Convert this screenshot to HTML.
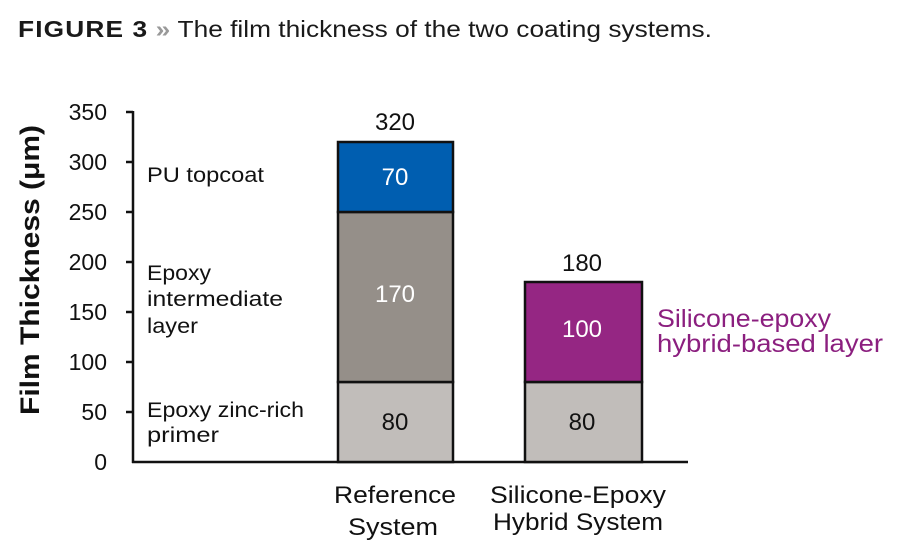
<!DOCTYPE html>
<html><head><meta charset="utf-8"><style>body{margin:0;background:#fff}svg{display:block}text{font-family:"Liberation Sans",sans-serif}</style></head>
<body>
<svg width="900" height="550" viewBox="0 0 900 550">
<text x="18" y="37" font-size="23" fill="#1a1a1a" textLength="694" lengthAdjust="spacingAndGlyphs"><tspan font-weight="bold" letter-spacing="1">FIGURE 3</tspan><tspan fill="#999" font-weight="bold"> » </tspan><tspan>The film thickness of the two coating systems.</tspan></text>
<g font-size="23" fill="#111" text-anchor="end">
<text x="107" y="120">350</text><text x="107" y="170">300</text><text x="107" y="220">250</text><text x="107" y="270">200</text><text x="107" y="320">150</text><text x="107" y="370">100</text><text x="107" y="420">50</text><text x="107" y="470">0</text>
</g>
<g stroke="#111" stroke-width="2.5">
<line x1="133" y1="111" x2="133" y2="463"/><line x1="132" y1="462" x2="688" y2="462"/>
<line x1="126" y1="112" x2="133" y2="112"/><line x1="126" y1="162" x2="133" y2="162"/><line x1="126" y1="212" x2="133" y2="212"/><line x1="126" y1="262" x2="133" y2="262"/><line x1="126" y1="312" x2="133" y2="312"/><line x1="126" y1="362" x2="133" y2="362"/><line x1="126" y1="412" x2="133" y2="412"/>
</g>
<text transform="translate(39,270) rotate(-90)" font-size="27" font-weight="bold" text-anchor="middle" fill="#111" textLength="290" lengthAdjust="spacingAndGlyphs">Film Thickness (μm)</text>
<g stroke="#111" stroke-width="2.5">
<rect x="338" y="382" width="115" height="80" fill="#c1bdba"/>
<rect x="338" y="212" width="115" height="170" fill="#958f89"/>
<rect x="338" y="142" width="115" height="70" fill="#005eb0"/>
<rect x="525" y="382" width="117" height="80" fill="#c1bdba"/>
<rect x="525" y="282" width="117" height="100" fill="#952683"/>
</g>
<g font-size="24" text-anchor="middle">
<text x="395" y="130" fill="#111">320</text>
<text x="395" y="185" fill="#fff">70</text>
<text x="395" y="302" fill="#fff">170</text>
<text x="395" y="430" fill="#111">80</text>
<text x="582" y="271" fill="#111">180</text>
<text x="582" y="337" fill="#fff">100</text>
<text x="582" y="430" fill="#111">80</text>
<text x="395" y="503" fill="#111" textLength="122" lengthAdjust="spacingAndGlyphs">Reference</text>
<text x="393" y="535" fill="#111" textLength="90" lengthAdjust="spacingAndGlyphs">System</text>
<text x="578" y="503" fill="#111" textLength="176" lengthAdjust="spacingAndGlyphs">Silicone-Epoxy</text>
<text x="578" y="530" fill="#111" textLength="170" lengthAdjust="spacingAndGlyphs">Hybrid System</text>
</g>
<g font-size="21" fill="#111">
<text x="147" y="182" textLength="117" lengthAdjust="spacingAndGlyphs">PU topcoat</text>
<text x="147" y="280" textLength="64" lengthAdjust="spacingAndGlyphs">Epoxy</text><text x="147" y="306" textLength="136" lengthAdjust="spacingAndGlyphs">intermediate</text><text x="147" y="333" textLength="51" lengthAdjust="spacingAndGlyphs">layer</text>
<text x="147" y="417" textLength="157" lengthAdjust="spacingAndGlyphs">Epoxy zinc-rich</text><text x="147" y="442" textLength="72" lengthAdjust="spacingAndGlyphs">primer</text>
</g>
<g font-size="25" fill="#8b1f7f">
<text x="657" y="327" textLength="174" lengthAdjust="spacingAndGlyphs">Silicone-epoxy</text><text x="657" y="352" textLength="226" lengthAdjust="spacingAndGlyphs">hybrid-based layer</text>
</g>
</svg>
</body></html>
